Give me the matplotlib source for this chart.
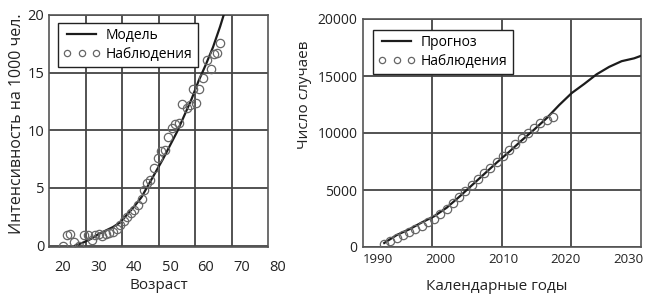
import matplotlib
matplotlib.use("Agg")
import matplotlib.pyplot as plt
import numpy as np

plt.rcParams['font.family'] = ['Open Sans', 'DejaVu Sans']

# ---- left panel: incidence by age ----
model_age = [23.5, 24, 26, 28, 30, 32, 34, 36, 38, 40, 42, 44, 46, 48, 50,
             52, 54, 56, 58, 60, 62, 64, 65, 65.6]
model_rate = [0.0, 0.05, 0.3, 0.6, 1.0, 1.3, 1.6, 2.0, 2.7, 3.4, 4.2, 5.3,
              6.4, 7.5, 8.7, 9.9, 11.3, 12.7, 14.3, 15.7, 17.2, 19.0, 20.0, 20.6]

obs_age = [20, 21, 22, 23, 24.5, 26, 27, 28, 29, 30, 31, 32, 33, 34, 35, 36,
           37, 38, 39, 40, 41, 42, 42.8, 43.6, 44.5, 45.5, 46.5, 47.5, 48.5,
           49.5, 50.5, 51.5, 52.5, 53.4, 54.6, 55.6, 56.3, 57.2, 58.1, 59.1,
           60.2, 61.4, 62.3, 63.0, 64.0]
obs_rate = [0.0, 0.9, 1.0, 0.3, 0.0, 0.9, 0.9, 0.5, 0.9, 1.0, 0.8, 1.0, 1.1,
            1.2, 1.4, 1.8, 2.1, 2.5, 2.8, 3.1, 3.5, 4.0, 4.8, 5.4, 5.7, 6.7,
            7.6, 8.2, 8.3, 9.4, 10.2, 10.5, 10.6, 12.3, 11.9, 12.2, 13.6, 12.4,
            13.6, 14.5, 16.1, 15.3, 16.6, 16.7, 17.6]

age_ticks = [20, 30, 40, 50, 60, 70, 80]
rate_ticks = [0, 5, 10, 15, 20]

# ---- right panel: number of cases by year ----
fc_year = [1991, 1993, 1995, 1997, 1999, 2001, 2003, 2005, 2007, 2009, 2011,
           2013, 2015, 2017, 2019, 2021, 2023, 2025, 2027, 2029, 2031, 2032]
fc_cases = [350, 1050, 1550, 2150, 2700, 3450, 4400, 5400, 6400, 7400, 8350,
            9350, 10300, 11300, 12450, 13500, 14300, 15150, 15800, 16300,
            16550, 16750]

obs_year = list(range(1991, 2019))
obs_cases = [250, 500, 800, 1050, 1300, 1550, 1850, 2150, 2500, 2900, 3350,
             3850, 4400, 4950, 5450, 6000, 6500, 6950, 7450, 7950, 8500, 9050,
             9550, 10000, 10400, 10850, 11150, 11400]

year_ticks = [1990, 2000, 2010, 2020, 2030]
case_ticks = [0, 5000, 10000, 15000, 20000]

grid_col = '#444444'
line_col = '#1c1c1c'
mark_col = '#666666'

fig = plt.figure(figsize=(6.48, 2.96), dpi=100)
ax1 = fig.add_axes([49/648, 49/296, 219/648, 232/296])
ax2 = fig.add_axes([363/648, 49/296, 278/648, 228/296])

# Left plot
ax1.plot(model_age, model_rate, color=line_col, lw=1.6, label='Модель', zorder=3)
ax1.plot(obs_age, obs_rate, ls='none', marker='o', ms=6, mfc='none',
         mec=mark_col, mew=0.9, label='Наблюдения', zorder=4)
ax1.set_xlim(16.1, 77.4)
ax1.set_ylim(-0.13, 20)

# grid lines split the box in 6 columns, they do not sit on the tick values
xmin, xmax = ax1.get_xlim()
ax1.set_xticks(np.linspace(xmin, xmax, 7)[1:-1], minor=True)
ax1.set_xticks([])
ax1.set_yticks(rate_ticks)
ax1.grid(True, which='minor', axis='x', color=grid_col, lw=1.3)
ax1.grid(True, which='major', axis='y', color=grid_col, lw=1.3)
ax1.tick_params(which='both', length=0)
ax1.tick_params(axis='y', labelsize=10.5, pad=3.5, labelcolor='#222')
for t in age_ticks:
    ax1.text(t, -0.09, str(t), transform=ax1.get_xaxis_transform(),
             ha='center', va='center', fontsize=10.5, color='#222', clip_on=False)
ax1.set_ylabel('Интенсивность на 1000 чел.', fontsize=11.5, color='#222')
ax1.yaxis.set_label_coords(-0.11, 0.53)
ax1.set_xlabel('Возраст', fontsize=11, color='#222')
ax1.xaxis.set_label_coords(0.5, -0.135)
ax1.legend(loc='upper left', bbox_to_anchor=(0.041, 0.966), borderaxespad=0,
           fancybox=False, edgecolor='#222', framealpha=1, fontsize=10,
           numpoints=3, markerscale=0.75, handlelength=2.7, handletextpad=0.4,
           labelspacing=0.3, borderpad=0.35)

# Right plot
ax2.plot(fc_year, fc_cases, color=line_col, lw=1.6, label='Прогноз', zorder=3)
ax2.plot(obs_year, obs_cases, ls='none', marker='o', ms=6, mfc='none',
         mec=mark_col, mew=0.9, label='Наблюдения', zorder=4)
ax2.set_xlim(1987.6, 2032.1)
ax2.set_ylim(0, 20000)
xmin, xmax = ax2.get_xlim()
ax2.set_xticks(year_ticks)
ax2.set_xticks(np.linspace(xmin, xmax, 5)[1:-1], minor=True)
ax2.set_yticks(case_ticks)
ax2.grid(True, which='minor', axis='x', color=grid_col, lw=1.3)
ax2.grid(True, which='major', axis='y', color=grid_col, lw=1.3)
ax2.tick_params(which='both', length=0)
ax2.tick_params(axis='y', labelsize=10, pad=4, labelcolor='#222')
ax2.tick_params(axis='x', labelsize=9.5, pad=4, labelcolor='#222')
ax2.set_ylabel('Число случаев', fontsize=11, color='#222')
ax2.yaxis.set_label_coords(-0.185, 0.667)
ax2.set_xlabel('Календарные годы', fontsize=11, color='#222')
ax2.xaxis.set_label_coords(0.482, -0.14)
ax2.legend(loc='upper left', bbox_to_anchor=(0.036, 0.952), borderaxespad=0,
           fancybox=False, edgecolor='#222', framealpha=1, fontsize=10,
           numpoints=3, markerscale=0.75, handlelength=2.7, handletextpad=0.4,
           labelspacing=0.3, borderpad=0.35)

for ax in (ax1, ax2):
    for s in ax.spines.values():
        s.set_color('#555')
        s.set_linewidth(1.2)

fig.savefig('out.png', dpi=100)
